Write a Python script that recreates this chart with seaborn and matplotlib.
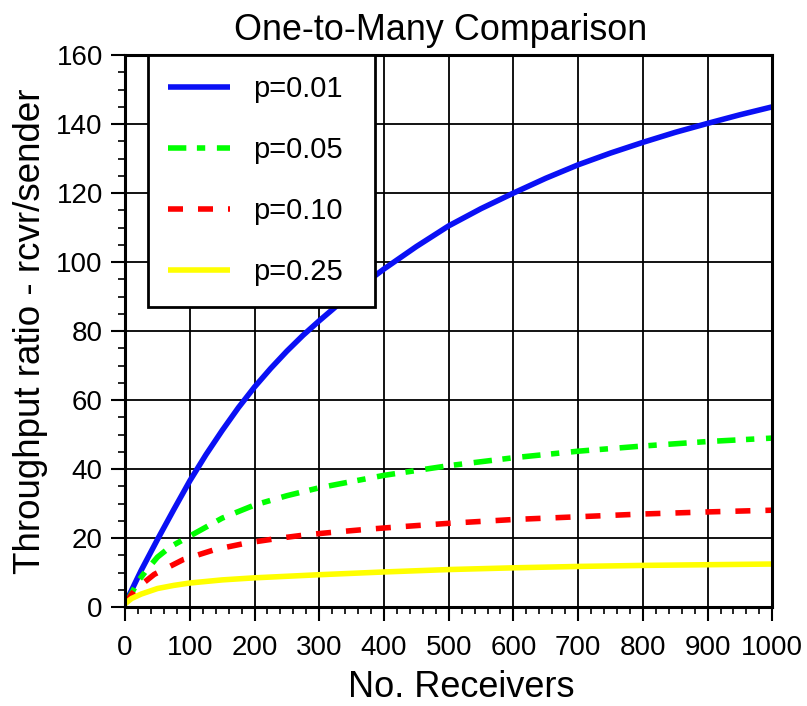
import matplotlib
matplotlib.use("Agg")
import matplotlib.pyplot as plt
import seaborn as sns
import pandas as pd
from matplotlib.ticker import MultipleLocator

# Data
x_p01 = [0, 25, 50, 75, 100, 125, 150, 175, 200, 225, 250, 275, 300, 350, 400, 450, 500, 550, 600, 650, 700, 750, 800, 850, 900, 950, 1000]
y_p01 = [1, 10.7, 19.6, 28.2, 36.6, 44.2, 51.2, 57.8, 63.8, 69.2, 74.2, 78.8, 83, 91, 98, 104.5, 110.5, 115.5, 120, 124.3, 128.2, 131.6, 134.7, 137.6, 140.2, 142.7, 145]

x_p05 = [0, 10, 20, 33, 50, 70, 100, 150, 200, 250, 300, 400, 500, 600, 700, 800, 900, 1000]
y_p05 = [1, 4, 7.5, 10.7, 14.5, 17.5, 20.6, 25.8, 29.6, 32.3, 34.6, 38.2, 41, 43.3, 45.2, 46.7, 48, 49]

x_p10 = [0, 15, 45, 90, 139, 188, 235, 281, 327, 376, 425, 500, 600, 700, 800, 900, 1000]
y_p10 = [1, 5, 9.5, 13.8, 16.7, 18.6, 19.9, 21, 21.8, 22.6, 23.3, 24.3, 25.4, 26.2, 27, 27.6, 28.1]

x_p25 = [0, 10, 25, 50, 75, 100, 150, 200, 300, 400, 500, 600, 700, 800, 900, 1000]
y_p25 = [1, 2.5, 3.8, 5.4, 6.3, 7.0, 7.9, 8.5, 9.4, 10.2, 10.9, 11.4, 11.8, 12.1, 12.3, 12.5]

labels = ["p=0.01", "p=0.05", "p=0.10", "p=0.25"]
colors = ["#0a10f5", "#00ff00", "#ff0000", "#ffff00"]
dashes = [None, (3.3, 1.9, 1.5, 2.1), (2.7, 2.7), None]

series = [(x_p01, y_p01), (x_p05, y_p05), (x_p10, y_p10), (x_p25, y_p25)]

sns.set_theme(style="white")
plt.rcParams['font.family'] = ['Liberation Sans', 'DejaVu Sans']
for k in ["text.color", "axes.labelcolor", "xtick.color", "ytick.color"]:
    plt.rcParams[k] = "black"

fig = plt.figure(figsize=(8.07, 7.06), dpi=100)
ax = fig.add_axes([0.155, 0.140, 0.802, 0.782])

for (xs, ys), lab, c, d in zip(series, labels, colors, dashes):
    df = pd.DataFrame({"x": xs, "y": ys})
    sns.lineplot(data=df, x="x", y="y", ax=ax, color=c, linewidth=4, label=lab)
    l = ax.lines[-1]
    if d is not None:
        l.set_dashes(d)
    l.set_solid_capstyle("butt")
    l.set_dash_capstyle("butt")

ax.set_xlim(0, 1000)
ax.set_ylim(0, 160)
ax.xaxis.set_major_locator(MultipleLocator(100))
ax.xaxis.set_minor_locator(MultipleLocator(20))
ax.yaxis.set_major_locator(MultipleLocator(20))
ax.yaxis.set_minor_locator(MultipleLocator(5))
ax.grid(True, which="major", color="black", linewidth=1.3)
ax.set_axisbelow(True)
for s in ax.spines.values():
    s.set_color("black")
    s.set_linewidth(2.2)
ax.tick_params(which="major", direction="out", length=10, width=1.5, color="black",
               labelsize=20, bottom=True, left=True, pad=6)
ax.tick_params(axis="x", which="major", pad=10)
ax.tick_params(which="minor", direction="out", length=5, width=1.2, color="black",
               bottom=True, left=True)

ax.set_xlabel("No. Receivers", fontsize=26, labelpad=4)
ax.xaxis.set_label_coords(0.519, -0.113)
ax.set_ylabel("Throughput ratio - rcvr/sender", fontsize=26.5, labelpad=6)
ax.set_title("One-to-Many Comparison", fontsize=25.8, pad=10.5, x=0.487)

leg = ax.legend(loc="upper left", bbox_to_anchor=(0.0355, 0.5, 0.351, 0.5), mode="expand",
                borderaxespad=0, fontsize=21, frameon=True, fancybox=False,
                handlelength=2.1, labelspacing=1.13, borderpad=0.7, handletextpad=0.8)
leg.get_frame().set_edgecolor("black")
leg.get_frame().set_linewidth(2)
leg.get_frame().set_alpha(1)

fig.savefig("out.png", dpi=100)
